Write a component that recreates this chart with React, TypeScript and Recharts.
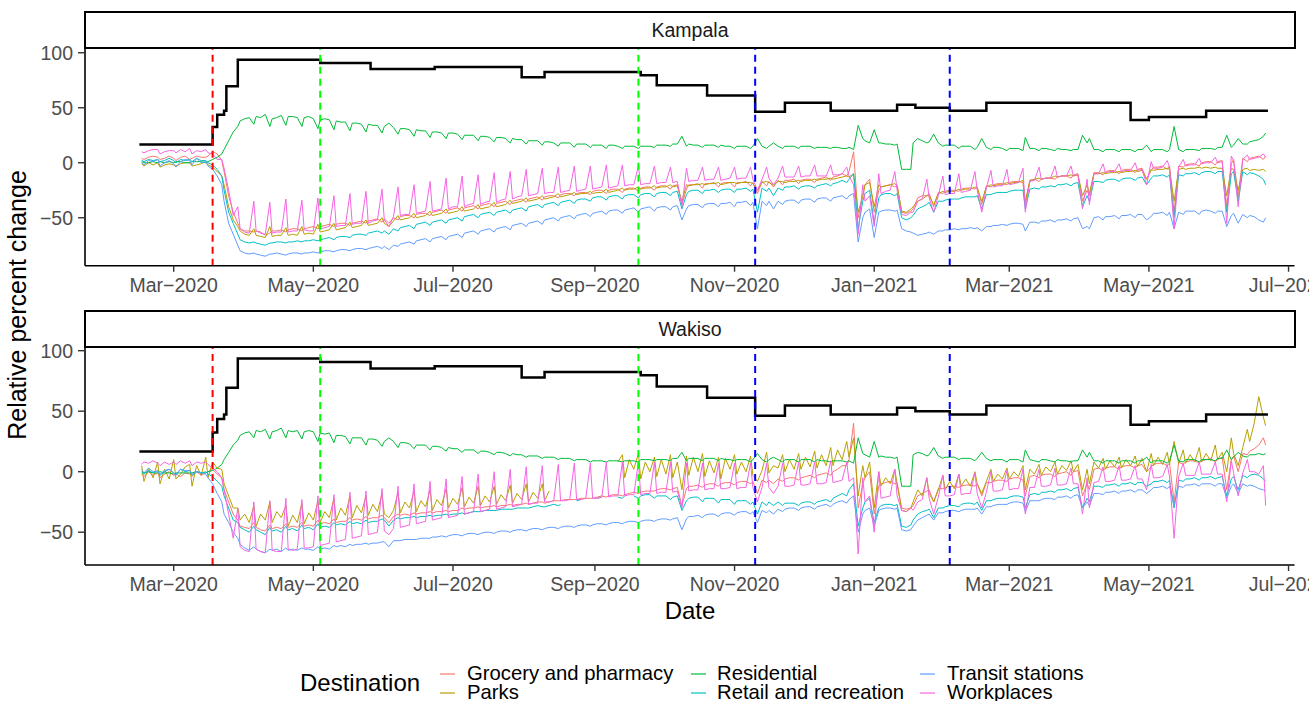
import React from 'react';
import { LineChart, Line, XAxis, YAxis, ReferenceLine } from 'recharts';

// ---- axes ----
const dateTicks = [0, 61, 122, 184, 245, 306, 365, 426, 487]; // days from 1 Mar 2020
const dateTickLabels = ['Mar\u22122020', 'May\u22122020', 'Jul\u22122020', 'Sep\u22122020', 'Nov\u22122020', 'Jan\u22122021', 'Mar\u22122021', 'May\u22122021', 'Jul\u22122021'];
const yTicks = [-50, 0, 50, 100];
const panelNames = ['Kampala', 'Wakiso'];
const seriesNames = ['Grocery and pharmacy', 'Parks', 'Residential', 'Retail and recreation', 'Transit stations', 'Workplaces'];
const seriesColors = ['#F8766D', '#B79F00', '#00BA38', '#00BFC4', '#619CFF', '#F564E3'];

// policy change dates (days from 1 Mar 2020)
const eventDays = [17, 64, 203, 254, 339];
const eventColors = ['#FF0000', '#00FF00', '#00FF00', '#0000FF', '#0000FF'];

// stringency index (step changes)
const stringencyDays = [-15, 17, 19, 22, 23, 28, 64, 86, 114, 152, 162, 204, 211, 233, 254, 267, 287, 316, 324, 339, 355, 418, 426, 451, 478];
const stringencyValues = [16.67, 32.41, 43.52, 47.22, 69.44, 93.52, 90.74, 85.19, 87.04, 77.78, 82.41, 79.63, 70.37, 61.11, 46.3, 54.63, 47.22, 52.78, 50.0, 47.22, 54.63, 38.89, 41.67, 47.22, 47.22];

// sampling: each week (Sun 16 Feb 2020 onwards) -> Sun, Mon, Wed, Fri
const weekOffsets = [0, 1, 3, 5];
const firstWeekStart = -14;
const pointCount = 282;

// ---------------- Kampala ----------------
const kampalaGrocery = [
  4, 3, 5, 6, 5, 3, 4, 6, 4, 2, 5, 6, 3, 4, 6, 5, 5, 6, 10, 8, 2, -8, -30, -45,
  -55, -60, -62, -62, -63, -62, -63, -66, -64, -62, -62, -61, -63, -61, -60, -60, -62, -60, -59, -58,
  -60, -58, -57, -56, -58, -56, -55, -55, -57, -55, -54, -53, -55, -53, -52, -51, -54, -51, -55, -50,
  -52, -49, -48, -48, -50, -47, -46, -46, -48, -45, -44, -43, -46, -43, -42, -41,
  -44, -41, -40, -39, -42, -39, -38, -37, -40, -37, -36, -35, -38, -35, -34, -33,
  -36, -33, -32, -31, -34, -31, -30, -30, -32, -29, -28, -28, -30, -28, -27, -27,
  -29, -26, -25, -25, -28, -25, -24, -24, -27, -24, -23, -23, -26, -23, -22, -22, -25, -22, -21, -21,
  -24, -21, -20, -38, -24, -20, -20, -19, -23, -19, -19, -18, -22, -19, -18, -18,
  -22, -18, -18, -17, -21, -18, -28, -17, -21, -17, -22, -16, -20, -16, -16, -15,
  -19, -16, -15, -15, -18, -15, -14, -13, -16, -13, -12, -10, -12, -8, 10, -50, -30, -20, -15, -45,
  -25, -22, -21, -20, -22, -20, -45, -46, -44, -42, -32, -30, -30, -28, -40, -27,
  -28, -26, -25, -25, -26, -24, -23, -23, -24, -22, -38, -21, -22, -20, -19, -19,
  -20, -18, -17, -17, -18, -38, -16, -15, -17, -15, -14, -14, -15, -13, -12, -12, -14, -11, -10, -35,
  -25, -30, -9, -9, -11, -8, -7, -7, -10, -7, -6, -6, -9, -6, -5, -15,
  -7, -4, -4, -3, -6, -3, -45, -3, -4, -2, -1, -1, -3, 0, 1, 1,
  -2, 1, 2, -40, -1, 3, -30, 4, 1, 4, 5, 6, 3, 6,
];
const kampalaParks = [
  -1, -3, 0, -2, 0, -4, -2, -1, -2, -3, -1, 0, 0, -3, -2, -1, 1, -2, -4, -8, -12, -20, -40, -52,
  -58, -62, -65, -66, -60, -66, -67, -68, -58, -67, -66, -66, -59, -66, -65, -66, -58, -65, -64, -65,
  -56, -63, -62, -61, -55, -61, -60, -59, -54, -59, -58, -57, -52, -57, -56, -55, -50, -55, -58, -53,
  -48, -52, -51, -50, -46, -50, -49, -48, -44, -48, -47, -46, -42, -46, -45, -44,
  -40, -44, -43, -42, -38, -42, -41, -40, -36, -40, -39, -38, -34, -37, -36, -35,
  -32, -35, -34, -33, -30, -33, -32, -31, -28, -31, -30, -29, -27, -29, -28, -28,
  -26, -28, -27, -27, -24, -27, -26, -25, -23, -25, -24, -24, -22, -24, -23, -23, -21, -23, -22, -22,
  -20, -22, -21, -35, -20, -21, -20, -20, -19, -20, -19, -19, -18, -20, -19, -18,
  -18, -19, -18, -18, -18, -19, -25, -18, -17, -18, -20, -17, -17, -18, -17, -17,
  -16, -17, -16, -16, -15, -16, -15, -15, -14, -15, -14, -13, -12, -13, -10, -45, -30, -20, -18, -40,
  -20, -22, -21, -20, -19, -21, -44, -45, -42, -40, -35, -33, -30, -30, -38, -28,
  -26, -27, -26, -26, -24, -25, -24, -24, -22, -23, -35, -22, -20, -21, -20, -20,
  -18, -19, -18, -18, -16, -35, -16, -15, -14, -15, -14, -14, -12, -13, -12, -12, -11, -12, -11, -30,
  -20, -28, -10, -10, -9, -10, -9, -9, -8, -9, -8, -8, -7, -8, -7, -15,
  -6, -7, -6, -6, -5, -6, -35, -6, -5, -6, -5, -5, -4, -5, -4, -5,
  -4, -5, -5, -30, -5, -6, -25, -6, -5, -7, -6, -7, -6, -8,
];
const kampalaResidential = [
  1, 0, 0, 1, 0, 1, 0, 1, 0, 1, 1, 0, 0, 1, 1, 1, 0, 1, 3, 5, 8, 12, 20, 28,
  33, 38, 40, 41, 35, 42, 41, 44, 33, 40, 41, 43, 34, 42, 42, 41, 33, 41, 42, 40,
  31, 39, 40, 39, 30, 38, 37, 37, 29, 36, 36, 35, 28, 35, 34, 34, 27, 33, 36, 32,
  26, 31, 31, 30, 24, 30, 29, 29, 23, 28, 28, 27, 22, 27, 27, 26,
  21, 25, 25, 25, 20, 24, 24, 23, 19, 23, 23, 22, 18, 22, 21, 21,
  17, 20, 20, 20, 16, 19, 19, 18, 15, 18, 18, 18, 14, 17, 17, 17,
  14, 16, 16, 16, 13, 16, 16, 15, 13, 15, 15, 15, 13, 15, 15, 15, 14, 16, 16, 16,
  15, 17, 17, 24, 15, 17, 16, 16, 14, 16, 16, 16, 14, 16, 15, 15,
  13, 15, 15, 15, 13, 15, 22, 15, 13, 15, 18, 15, 13, 15, 15, 15,
  13, 15, 15, 15, 13, 14, 14, 14, 13, 14, 14, 13, 13, 14, 12, 34, 22, 20, 18, 30,
  18, 18, 17, 17, 16, 17, -6, -6, -6, 18, 22, 20, 18, 19, 26, 18,
  15, 16, 16, 16, 13, 15, 15, 15, 12, 14, 22, 14, 12, 14, 14, 13,
  11, 13, 13, 13, 11, 23, 13, 13, 11, 13, 13, 12, 11, 13, 12, 12, 11, 12, 12, 25,
  18, 22, 12, 12, 10, 12, 12, 12, 10, 12, 12, 12, 10, 12, 12, 16,
  10, 12, 12, 12, 10, 12, 33, 12, 10, 12, 12, 12, 11, 13, 13, 13,
  12, 14, 14, 25, 14, 16, 22, 17, 17, 19, 20, 21, 24, 27,
];
const kampalaRetail = [
  2, 1, 3, 2, 3, 1, 2, 4, 2, 0, 3, 2, 3, 1, 4, 2, 2, 0, -2, -6, -12, -25, -45, -55,
  -65, -70, -72, -73, -72, -73, -74, -75, -73, -73, -72, -72, -73, -72, -72, -71, -72, -71, -71, -70,
  -71, -70, -69, -68, -70, -68, -67, -67, -68, -66, -65, -65, -66, -64, -63, -62, -64, -62, -65, -60,
  -62, -59, -58, -57, -60, -56, -55, -54, -57, -54, -53, -52, -55, -52, -51, -50,
  -53, -49, -48, -47, -50, -47, -46, -45, -48, -45, -44, -43, -46, -43, -42, -41,
  -44, -40, -39, -38, -41, -38, -37, -36, -39, -36, -35, -34, -37, -34, -33, -33,
  -35, -32, -31, -31, -34, -31, -30, -30, -33, -30, -29, -29, -32, -29, -28, -28, -31, -28, -27, -27,
  -30, -27, -26, -42, -29, -26, -25, -25, -28, -25, -25, -24, -27, -25, -24, -24,
  -27, -24, -24, -23, -26, -24, -45, -23, -26, -23, -30, -23, -25, -22, -22, -21,
  -24, -22, -21, -21, -23, -21, -20, -19, -21, -19, -18, -16, -18, -15, -10, -60, -35, -28, -25, -55,
  -32, -29, -28, -28, -30, -28, -50, -52, -50, -48, -42, -40, -38, -36, -45, -35,
  -35, -34, -33, -33, -33, -32, -31, -31, -31, -30, -42, -29, -29, -28, -27, -27,
  -27, -26, -25, -25, -25, -42, -24, -23, -24, -22, -22, -21, -22, -20, -20, -19, -21, -19, -18, -40,
  -30, -35, -17, -17, -18, -16, -15, -15, -17, -15, -14, -14, -16, -14, -13, -20,
  -14, -12, -12, -11, -13, -11, -50, -11, -12, -10, -10, -9, -11, -9, -8, -8,
  -10, -8, -8, -45, -10, -8, -35, -8, -11, -9, -10, -12, -15, -20,
];
const kampalaTransit = [
  0, -2, 2, 1, 3, -3, 0, 2, -1, -4, 1, 3, 2, -2, 4, 0, 1, -3, -6, -12, -20, -35, -55, -65,
  -75, -80, -82, -83, -82, -83, -84, -85, -83, -83, -82, -83, -84, -83, -82, -82, -83, -82, -82, -81,
  -82, -81, -80, -80, -81, -80, -79, -79, -80, -79, -78, -78, -79, -78, -77, -76, -78, -76, -79, -75,
  -76, -74, -73, -72, -74, -71, -70, -69, -72, -69, -68, -67, -70, -67, -66, -65,
  -68, -64, -63, -62, -65, -62, -61, -60, -63, -60, -59, -58, -61, -57, -56, -55,
  -58, -55, -54, -53, -56, -52, -51, -50, -53, -50, -49, -48, -51, -48, -47, -46,
  -49, -46, -45, -44, -47, -44, -43, -43, -46, -43, -42, -41, -45, -42, -41, -40, -44, -41, -40, -40,
  -43, -40, -39, -52, -42, -39, -38, -38, -41, -38, -37, -37, -40, -37, -37, -36,
  -40, -36, -36, -35, -39, -36, -60, -35, -39, -35, -42, -35, -38, -35, -34, -34,
  -37, -34, -33, -33, -36, -33, -32, -32, -35, -32, -31, -30, -33, -30, -28, -72, -50, -45, -42, -68,
  -45, -44, -43, -43, -44, -43, -60, -62, -63, -64, -66, -65, -64, -63, -65, -62,
  -62, -61, -61, -60, -61, -60, -60, -59, -60, -59, -62, -58, -58, -57, -57, -56,
  -57, -56, -55, -55, -56, -62, -54, -54, -55, -53, -53, -52, -54, -52, -52, -51, -53, -51, -50, -60,
  -58, -60, -50, -49, -52, -49, -49, -48, -51, -48, -48, -47, -50, -47, -47, -52,
  -49, -46, -46, -45, -48, -45, -60, -45, -47, -44, -44, -44, -47, -44, -43, -44,
  -46, -44, -44, -58, -48, -46, -55, -47, -50, -48, -49, -52, -54, -50,
];
const kampalaWorkplaces = [
  10, 9, 11, 12, 12, 8, 10, 11, 11, 9, 12, 10, 13, 8, 11, 10, 12, 9, 8, 3, 3, -5, -25, -48,
  -40, -60, -63, -64, -35, -62, -64, -65, -36, -64, -63, -63, -33, -63, -62, -62, -34, -61, -62, -62,
  -32, -60, -59, -58, -30, -58, -57, -57, -28, -56, -55, -55, -26, -55, -53, -52, -24, -52, -58, -49,
  -22, -48, -47, -47, -20, -46, -45, -44, -17, -44, -43, -42, -14, -42, -40, -40,
  -12, -40, -38, -37, -11, -38, -36, -35, -9, -36, -34, -33, -8, -33, -31, -30,
  -6, -30, -29, -28, -5, -28, -27, -27, -4, -27, -26, -25, -3, -26, -25, -24,
  -3, -24, -23, -22, -2, -23, -22, -21, -2, -21, -20, -20, -3, -20, -19, -19, -3, -19, -18, -18,
  -4, -18, -17, -40, -5, -17, -16, -16, -4, -16, -15, -15, -4, -16, -15, -14,
  -4, -15, -14, -14, -4, -15, -25, -15, -4, -14, -20, -14, -3, -13, -13, -13,
  -3, -13, -12, -12, -2, -12, -12, -12, -2, -11, -11, -10, -4, -12, -20, -65, -20, -35, -30, -58,
  -10, -28, -26, -25, -8, -25, -47, -48, -45, -45, -35, -33, -15, -32, -45, -30,
  -12, -29, -28, -28, -10, -27, -26, -25, -8, -25, -45, -23, -7, -22, -21, -21,
  -6, -20, -19, -18, -5, -45, -17, -16, -4, -15, -14, -14, -3, -13, -12, -12, -3, -12, -11, -42,
  -15, -38, -10, -10, -1, -9, -8, -8, -1, -8, -7, -7, 0, -7, -6, -20,
  1, -5, -5, -4, 2, -4, -60, -4, 3, -3, -2, -2, 4, -1, 0, 0,
  5, 0, 1, -55, 6, 2, -40, 3, 7, 3, 4, 5, 8, 5,
];

// ---------------- Wakiso ----------------
const wakisoGrocery = [
  -2, -4, 0, -3, -1, -5, -2, 0, -3, -2, -4, -1, -2, -4, 0, -3, -1, 0, 2, -2, -5, -15, -25, -35,
  -40, -45, -46, -47, -42, -46, -48, -49, -44, -47, -46, -47, -43, -46, -45, -46, -42, -45, -44, -45,
  -40, -43, -42, -43, -39, -42, -41, -41, -38, -40, -39, -40, -37, -39, -38, -38, -36, -38, -42, -37,
  -35, -36, -35, -36, -34, -35, -34, -34, -33, -34, -33, -33, -32, -33, -32, -32,
  -30, -31, -30, -30, -29, -30, -29, -29, -28, -29, -28, -28, -27, -28, -27, -27,
  -26, -27, -26, -25, -25, -26, -25, -24, -24, -24, -23, -23, -23, -23, -22, -22,
  -22, -22, -21, -20, -21, -20, -19, -19, -20, -19, -18, -17, -18, -17, -16, -16, -16, -15, -14, -14,
  -15, -14, -13, -28, -14, -12, -12, -11, -13, -11, -10, -10, -12, -10, -9, -9,
  -11, -9, -8, -8, -10, -8, -18, -7, -9, -7, -10, -6, -8, -6, -5, -5,
  -7, -5, -4, -3, -5, -3, -2, -1, -3, 0, 2, 5, 5, 10, 40, -30, -10, -5, 0, -35,
  -12, -10, -9, -8, -10, -9, -30, -31, -30, -28, -20, -18, -16, -15, -25, -14,
  -14, -13, -12, -12, -13, -12, -11, -11, -12, -10, -20, -9, -9, -8, -7, -7,
  -8, -6, -5, -5, -7, -20, -4, -3, -5, -3, -2, -2, -4, -2, -1, 0, -3, 0, 1, -20,
  -10, -15, 2, 3, 1, 3, 4, 4, 2, 4, 5, 5, 3, 5, 6, 0,
  4, 6, 7, 7, 5, 7, -25, 8, 6, 8, 9, 9, 7, 9, 10, 11,
  8, 10, 12, -15, 10, 13, 0, 15, 14, 17, 19, 22, 28, 22,
];
const wakisoParks = [
  5, -8, 3, -5, 8, -10, 2, -6, 10, -6, -2, 4, 6, -12, 5, -3, 12, -5, 8, 3, 2, -10, -20, -30,
  -30, -40, -35, -42, -28, -45, -35, -40, -25, -42, -33, -38, -28, -45, -36, -42, -26, -43, -34, -40,
  -24, -42, -33, -38, -22, -40, -30, -36, -20, -38, -28, -34, -20, -36, -27, -33, -18, -35, -38, -32,
  -17, -34, -25, -30, -16, -33, -24, -29, -15, -32, -23, -28, -14, -30, -22, -27,
  -13, -29, -21, -26, -12, -28, -20, -25, -12, -27, -19, -24, -11, -26, -18, -23,
  -10, -25, -17, -22, -10, -24, -16, null, null, null, null, null, null, null, null, null,
  null, null, null, null, null, null, null, 8, 14, -5, 10, 2, 15, -6, 8, 0, 12, -4, 10, -2,
  14, -5, 8, -15, 13, -3, 12, 0, 15, -4, 9, -1, 12, -6, 11, 2,
  14, -2, 8, 0, 13, -3, -8, 1, 16, -1, 5, 3, 14, 0, 10, 2,
  15, 2, 12, 4, 17, 3, 14, 5, 20, 5, 18, 10, 25, 12, 28, -20, 5, -5, 8, -30,
  0, -12, -5, -10, 2, -10, -32, -33, -30, -25, -15, -20, -5, -18, -25, -15,
  -3, -15, -8, -14, -2, -12, -6, -12, 0, -10, -18, -8, 2, -8, -2, -6,
  3, -6, 0, -4, 5, -15, 2, -2, 6, -3, 4, 0, 8, -2, 5, 1, 9, 0, 6, -15,
  2, -10, 8, 3, 11, 2, 9, 4, 12, 3, 10, 5, 13, 4, 11, 0,
  15, 5, 12, 6, 16, 6, 25, 7, 18, 7, 14, 8, 20, 8, 15, 9,
  22, 10, 16, 0, 28, 15, 5, 20, 35, 25, 40, 62, 45, 38,
];
const wakisoResidential = [
  -1, -1, 0, -1, -1, 0, -1, -1, -2, -1, -1, -1, -1, -1, 0, -1, -1, 0, 1, 3, 6, 10, 16, 22,
  26, 30, 32, 33, 28, 34, 33, 35, 27, 33, 34, 36, 28, 34, 33, 34, 27, 33, 34, 33,
  25, 32, 31, 32, 24, 30, 30, 29, 23, 28, 28, 28, 22, 27, 27, 26, 21, 25, 28, 25,
  20, 24, 24, 23, 19, 22, 22, 22, 18, 21, 21, 20, 17, 20, 19, 19,
  16, 18, 18, 18, 15, 17, 17, 16, 14, 16, 16, 15, 13, 15, 14, 14,
  12, 13, 13, 13, 11, 12, 12, 12, 10, 11, 11, 11, 9, 10, 10, 10,
  8, 9, 9, 9, 8, 9, 9, 9, 8, 9, 9, 9, 8, 10, 10, 10, 9, 10, 10, 10,
  9, 11, 11, 16, 9, 11, 11, 11, 9, 11, 11, 11, 9, 11, 10, 10,
  9, 10, 10, 10, 8, 10, 15, 10, 8, 10, 12, 10, 8, 10, 10, 10,
  8, 10, 10, 10, 8, 10, 9, 9, 8, 9, 9, 9, 8, 9, 7, 28, 15, 14, 12, 25,
  12, 13, 12, 12, 11, 12, -12, -12, -12, 14, 16, 15, 13, 14, 20, 13,
  11, 12, 12, 12, 10, 11, 11, 11, 9, 11, 16, 11, 9, 10, 10, 10,
  8, 10, 10, 10, 8, 18, 10, 9, 8, 10, 10, 9, 8, 10, 9, 9, 8, 9, 9, 18,
  12, 16, 9, 9, 7, 9, 9, 9, 7, 9, 9, 9, 7, 9, 9, 12,
  7, 9, 9, 9, 7, 9, 22, 9, 8, 10, 10, 10, 8, 10, 10, 10,
  9, 11, 11, 18, 10, 12, 16, 13, 12, 14, 14, 15, 14, 15,
];
const wakisoRetail = [
  0, -2, 1, -1, 1, -3, 0, 2, -1, -2, 2, 0, 1, -3, 0, -1, 0, -2, -4, -8, -12, -20, -30, -40,
  -42, -46, -48, -50, -45, -48, -50, -52, -46, -49, -48, -50, -45, -48, -47, -49, -44, -47, -46, -48,
  -43, -46, -45, -46, -42, -44, -43, -44, -41, -43, -42, -43, -40, -42, -41, -41, -39, -40, -45, -40,
  -38, -39, -38, -38, -37, -38, -37, -37, -36, -37, -36, -36, -35, -36, -35, -35,
  -34, -35, -34, -33, -33, -33, -32, -32, -32, -32, -31, -31, -31, -31, -30, -30,
  -30, -30, -29, -28, -29, -29, -28, -27, -28, -27, null, null, null, -24, -23, null,
  null, null, -22, -21, null, null, null, -21, -22, -20, null, -20, -22, -20, -19, -19, -22, -20, -20, -20,
  -23, -21, -20, -32, -24, -22, -21, -21, -25, -22, -22, -22, -26, -23, -23, -23,
  -27, -24, -24, -24, -27, -25, -35, -25, -28, -25, -28, -25, -28, -26, -26, -26,
  -28, -26, -25, -25, -27, -25, -24, -23, -25, -22, -20, -18, -20, -15, -10, -45, -30, -25, -22, -42,
  -30, -28, -27, -27, -28, -27, -45, -46, -44, -40, -35, -33, -32, -31, -38, -30,
  -30, -29, -28, -28, -29, -27, -26, -26, -27, -25, -32, -24, -24, -23, -22, -22,
  -22, -21, -20, -20, -21, -30, -19, -18, -19, -17, -17, -16, -17, -15, -15, -14, -16, -14, -13, -30,
  -22, -25, -12, -12, -13, -11, -11, -10, -12, -10, -10, -9, -11, -9, -9, -12,
  -10, -8, -8, -7, -9, -7, -30, -7, -8, -6, -6, -5, -7, -5, -5, -4,
  -6, -5, -4, -20, -6, -4, -15, -3, -5, -3, -2, -3, -6, -8,
];
const wakisoTransit = [
  2, -1, 3, 0, 0, -2, 1, 2, -1, -3, 2, 1, 1, -2, 0, -1, -2, -5, -10, -18, -25, -35, -42, -50,
  -55, -60, -63, -65, -62, -64, -66, -67, -64, -65, -64, -66, -63, -65, -64, -65, -63, -64, -64, -65,
  -62, -64, -63, -64, -61, -62, -61, -62, -60, -61, -60, -60, -59, -60, -59, -59, -58, -58, -62, -57,
  -57, -57, -56, -56, -56, -56, -55, -55, -55, -54, -54, -53, -54, -53, -52, -52,
  -53, -52, -51, -51, -52, -51, -50, -50, -51, -50, -49, -49, -50, -49, -48, -48,
  -49, -48, -47, -47, -48, -47, -46, -46, -47, -46, -45, -45, -46, -45, -44, -44,
  -45, -44, -43, -43, -44, -43, -42, -42, -43, -42, -41, -41, -42, -41, -40, -40, -41, -40, -39, -39,
  -40, -39, -38, -48, -39, -37, -37, -36, -38, -36, -35, -35, -37, -35, -34, -34,
  -36, -34, -33, -33, -35, -33, -42, -32, -34, -32, -35, -31, -33, -31, -30, -30,
  -32, -30, -29, -29, -31, -29, -28, -27, -29, -27, -25, -24, -26, -23, -20, -50, -35, -32, -30, -45,
  -32, -31, -30, -30, -31, -30, -48, -49, -48, -45, -40, -38, -36, -35, -40, -34,
  -34, -33, -32, -32, -33, -32, -31, -31, -31, -30, -35, -29, -29, -28, -27, -27,
  -27, -26, -25, -25, -26, -33, -24, -24, -24, -23, -22, -22, -23, -21, -21, -20, -22, -20, -19, -30,
  -25, -28, -18, -18, -19, -17, -17, -16, -18, -16, -16, -15, -17, -15, -15, -18,
  -15, -13, -13, -12, -14, -12, -28, -12, -13, -11, -11, -10, -12, -10, -10, -10,
  -12, -10, -10, -22, -12, -10, -18, -10, -12, -11, -12, -14, -15, -16,
];
const wakisoWorkplaces = [
  6, 8, 7, 9, 7, 5, 8, 6, 8, 6, 9, 7, 9, 5, 8, 7, 8, 6, 3, 0, -5, -15, -35, -55,
  -30, -62, -65, -66, -25, -64, -66, -67, -24, -65, -66, -66, -22, -64, -65, -64, -23, -63, -63, -62,
  -20, -61, -60, -59, -19, -58, -57, -56, -17, -55, -54, -53, -16, -52, -51, -50, -14, -49, -52, -47,
  -12, -46, -45, -44, -10, -43, -42, -41, -8, -40, -39, -38, -6, -38, -37, -36,
  -4, -35, -34, -33, -2, -33, -32, -31, 0, -31, -30, -29, 2, -29, -28, -27,
  4, -27, -26, -26, 5, -25, -25, -24, 6, -24, -24, -23, 7, -23, -23, -22,
  7, -22, -22, -21, 8, -21, -20, -20, 8, -20, -19, -19, 8, -19, -18, -18, 8, -18, -17, -17,
  8, -17, -16, -30, 7, -16, -15, -15, 7, -15, -14, -14, 7, -14, -14, -13,
  7, -14, -13, -13, 7, -13, -25, -13, 7, -13, -18, -12, 7, -12, -12, -11,
  8, -11, -11, -10, 8, -10, -10, -9, 9, -9, -8, -7, 8, -8, -5, -68, -5, -25, -20, -50,
  0, -22, -21, -20, 2, -20, -32, -33, -30, -32, -25, -23, -5, -22, -35, -21,
  -3, -20, -20, -19, -2, -19, -18, -18, -1, -18, -30, -17, 0, -16, -16, -15,
  1, -15, -14, -14, 2, -35, -13, -13, 2, -12, -12, -11, 3, -11, -11, -10, 3, -10, -10, -35,
  -5, -30, -9, -8, 4, -8, -8, -7, 5, -7, -7, -6, 5, -6, -6, -15,
  6, -5, -5, -4, 6, -4, -55, -4, 7, -3, -3, -3, 8, -2, -2, -2,
  8, -2, -2, -25, 9, -1, -20, -1, 10, 0, 0, -2, 5, -28,
];

// ---- data assembly ----
const gridDays: number[] = (() => {
  const days: number[] = [];
  for (let w = 0; days.length < pointCount; w++) {
    for (const o of weekOffsets) {
      if (days.length < pointCount) days.push(firstWeekStart + 7 * w + o);
    }
  }
  return days;
})();

const toPoints = (vals: (number | null)[]) =>
  vals.slice(0, gridDays.length).map((v, i) => ({ day: gridDays[i], v }));

const stringencyData = stringencyDays.map((d, i) => ({ day: d, v: stringencyValues[i] }));

const panelSeries = [
  [kampalaGrocery, kampalaParks, kampalaResidential, kampalaRetail, kampalaTransit, kampalaWorkplaces],
  [wakisoGrocery, wakisoParks, wakisoResidential, wakisoRetail, wakisoTransit, wakisoWorkplaces],
].map((group) => group.map(toPoints));

const panelDomains: [number, number][] = [
  [-93.6, 103.4],
  [-77.1, 102.8],
];

const W = 1309;
const PH = 300;
const X_DOMAIN: [number, number] = [-38.75, 489.6];
const FONT = "'Liberation Sans', Arial, Helvetica, sans-serif";

const fmtY = (v: number) => (v < 0 ? '\u2212' + Math.abs(v) : String(v));
const fmtX = (v: number) => dateTickLabels[dateTicks.indexOf(v)] ?? '';

function Panel({ idx, top, plotTop, plotBottom }: { idx: number; top: number; plotTop: number; plotBottom: number }) {
  const xAxisH = 30;
  return (
    <div style={{ position: 'absolute', left: 0, top, width: W, height: PH }}>
      <LineChart
        width={W}
        height={PH}
        margin={{ top: plotTop, right: 14.5, bottom: PH - plotBottom - xAxisH, left: 0 }}
      >
        <XAxis
          type="number"
          dataKey="day"
          domain={X_DOMAIN}
          allowDataOverflow
          ticks={dateTicks}
          interval={0}
          tickFormatter={fmtX}
          height={xAxisH}
          tickSize={6}
          tickMargin={6}
          tick={{ fill: '#4D4D4D', fontSize: 19.5 }}
          axisLine={{ stroke: '#000', strokeWidth: 1.6 }}
          tickLine={{ stroke: '#333', strokeWidth: 1.4 }}
        />
        <YAxis
          type="number"
          domain={panelDomains[idx]}
          allowDataOverflow
          ticks={yTicks}
          interval={0}
          tickFormatter={fmtY}
          width={85}
          tickSize={7}
          tickMargin={5}
          tick={{ fill: '#4D4D4D', fontSize: 19.5 }}
          axisLine={{ stroke: '#000', strokeWidth: 1.6 }}
          tickLine={{ stroke: '#333', strokeWidth: 1.4 }}
        />
        {panelSeries[idx].map((data, i) => (
          <Line
            key={seriesNames[i]}
            data={data}
            dataKey="v"
            type="linear"
            stroke={seriesColors[i]}
            strokeWidth={1}
            dot={false}
            activeDot={false}
            connectNulls={false}
            isAnimationActive={false}
          />
        ))}
        <Line
          data={stringencyData}
          dataKey="v"
          type="stepAfter"
          stroke="#000"
          strokeWidth={2.5}
          dot={false}
          activeDot={false}
          isAnimationActive={false}
        />
        {eventDays.map((d, i) => (
          <ReferenceLine key={d} x={d} stroke={eventColors[i]} strokeWidth={2} strokeDasharray="7 5" />
        ))}
      </LineChart>
    </div>
  );
}

function Strip({ top, label }: { top: number; label: string }) {
  return (
    <div
      style={{
        position: 'absolute',
        left: 84,
        top,
        width: 1212,
        height: 38,
        boxSizing: 'border-box',
        border: '2px solid #000',
        background: '#fff',
        color: '#1A1A1A',
        fontSize: 19.5,
        lineHeight: '34px',
        textAlign: 'center',
      }}
    >
      {label}
    </div>
  );
}

const legendCols = [
  { keyX: 440, textX: 467 },
  { keyX: 691, textX: 717 },
  { keyX: 920, textX: 947 },
];
const legendRowY = [673.5, 692.5];

export default function App() {
  return (
    <div
      style={{
        position: 'absolute',
        left: 0,
        top: 0,
        width: W,
        height: 701,
        overflow: 'hidden',
        background: '#fff',
        fontFamily: FONT,
      }}
    >
      <Panel idx={0} top={0} plotTop={49} plotBottom={265.7} />
      <Panel idx={1} top={300} plotTop={47.3} plotBottom={265} />
      <Strip top={11} label={panelNames[0]} />
      <Strip top={310} label={panelNames[1]} />

      {/* y axis title */}
      <div
        style={{
          position: 'absolute',
          left: 17 - 200,
          top: 305 - 15,
          width: 400,
          height: 30,
          lineHeight: '30px',
          textAlign: 'center',
          fontSize: 25,
          color: '#000',
          transform: 'rotate(-90deg)',
        }}
      >
        Relative percent change
      </div>

      {/* x axis title */}
      <div
        style={{
          position: 'absolute',
          left: 590,
          top: 596,
          width: 200,
          height: 30,
          lineHeight: '30px',
          textAlign: 'center',
          fontSize: 24,
          color: '#000',
        }}
      >
        Date
      </div>

      {/* legend */}
      <div style={{ position: 'absolute', left: 300, top: 668, height: 30, lineHeight: '30px', fontSize: 24, color: '#000' }}>
        Destination
      </div>
      {seriesNames.map((name, i) => {
        const col = legendCols[Math.floor(i / 2)];
        const y = legendRowY[i % 2];
        return (
          <React.Fragment key={name}>
            <div
              style={{
                position: 'absolute',
                left: col.keyX,
                top: y - 1,
                width: 15,
                height: 2,
                background: seriesColors[i],
                opacity: 0.6,
              }}
            />
            <div
              style={{
                position: 'absolute',
                left: col.textX,
                top: y - 9.5,
                height: 19,
                lineHeight: '19px',
                fontSize: 20.3,
                color: '#000',
                whiteSpace: 'nowrap',
              }}
            >
              {name}
            </div>
          </React.Fragment>
        );
      })}
    </div>
  );
}
